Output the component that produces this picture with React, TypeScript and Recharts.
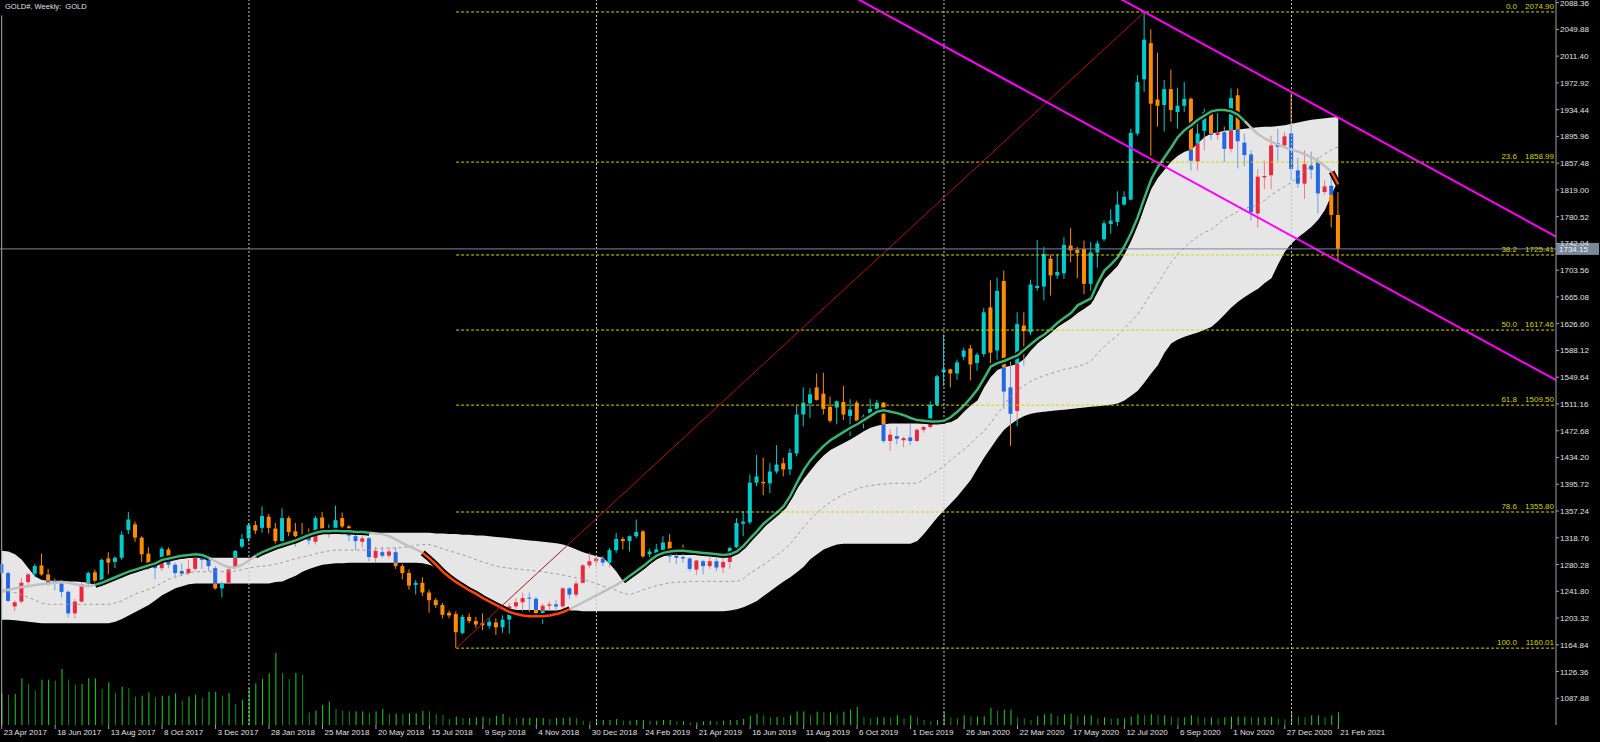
import React from 'react';
import {
  ComposedChart,
  Area,
  Bar,
  Line,
  Scatter,
  XAxis,
  YAxis,
  ReferenceLine,
} from 'recharts';

// GOLD#, weekly bars. index 0 = week of 23 Apr 2017, index 200 = week of 21 Feb 2021
const opens = [
  1281, 1268, 1220, 1227, 1255, 1267, 1279, 1266, 1256, 1253,
  1241, 1210, 1227, 1253, 1269, 1257, 1289, 1284, 1290, 1330,
  1338, 1319, 1296, 1278, 1275, 1302, 1280, 1271, 1268, 1274,
  1291, 1288, 1275, 1246, 1254, 1276, 1306, 1318, 1337, 1333,
  1349, 1332, 1314, 1347, 1328, 1322, 1323, 1313, 1348, 1326,
  1332, 1347, 1335, 1321, 1313, 1318, 1290, 1298, 1293, 1298,
  1278, 1268, 1251, 1254, 1240, 1229, 1222, 1211, 1209, 1182,
  1205, 1199, 1196, 1192, 1197, 1190, 1201, 1220, 1226, 1232,
  1231, 1208, 1221, 1223, 1220, 1246, 1237, 1254, 1279, 1285,
  1289, 1283, 1301, 1317, 1314, 1321, 1328, 1295, 1297, 1301,
  1313, 1293, 1291, 1289, 1273, 1285, 1278, 1285, 1276, 1284,
  1305, 1339, 1341, 1398, 1399, 1397, 1414, 1426, 1417, 1440,
  1496, 1512, 1535, 1526, 1507, 1506, 1514, 1494, 1513, 1487,
  1494, 1503, 1513, 1458, 1465, 1459, 1463, 1458, 1474, 1478,
  1510, 1557, 1561, 1555, 1579, 1591, 1570, 1583, 1650, 1588,
  1688, 1535, 1501, 1624, 1614, 1678, 1680, 1720, 1696, 1699,
  1739, 1733, 1734, 1684, 1729, 1748, 1770, 1773, 1798, 1805,
  1900, 1978, 2030, 1949, 1941, 1964, 1931, 1940, 1950, 1860,
  1904, 1929, 1898, 1902, 1878, 1955, 1887, 1870, 1785, 1837,
  1840, 1886, 1883, 1900, 1847, 1828, 1854, 1860, 1816, 1825,
  1783,
];
const highs = [
  1287, 1271, 1229, 1261, 1268, 1281, 1296, 1274, 1260, 1257,
  1243, 1231, 1255, 1270, 1273, 1289, 1298, 1292, 1328, 1356,
  1342, 1321, 1305, 1285, 1306, 1305, 1283, 1282, 1287, 1297,
  1294, 1295, 1278, 1256, 1275, 1301, 1324, 1340, 1343, 1364,
  1353, 1340, 1361, 1350, 1340, 1340, 1332, 1350, 1356, 1338,
  1365, 1355, 1337, 1324, 1326, 1320, 1306, 1305, 1304, 1305,
  1281, 1273, 1258, 1262, 1244, 1232, 1225, 1214, 1213, 1208,
  1210, 1205, 1210, 1203, 1203, 1207, 1225, 1232, 1240, 1240,
  1234, 1224, 1227, 1229, 1248, 1248, 1257, 1281, 1297, 1294,
  1292, 1304, 1326, 1320, 1322, 1345, 1330, 1303, 1310, 1321,
  1324, 1297, 1309, 1291, 1287, 1287, 1291, 1289, 1289, 1306,
  1347, 1357, 1410, 1438, 1434, 1426, 1452, 1434, 1447, 1509,
  1535, 1534, 1555, 1556, 1522, 1516, 1537, 1518, 1516, 1496,
  1518, 1517, 1514, 1475, 1478, 1464, 1482, 1476, 1480, 1515,
  1553, 1611, 1562, 1575, 1592, 1596, 1585, 1649, 1689, 1693,
  1703, 1575, 1643, 1643, 1690, 1747, 1737, 1726, 1727, 1751,
  1764, 1737, 1746, 1744, 1746, 1775, 1791, 1817, 1817, 1907,
  1984, 2074.9, 2050, 2016, 1977, 1992, 1966, 1974, 1952, 1918,
  1936, 1934, 1932, 1910, 1965, 1965, 1900, 1876, 1849, 1861,
  1897, 1907, 1902, 1959, 1865, 1876, 1874, 1866, 1833, 1842,
  1816,
];
const lows = [
  1262, 1226, 1213, 1224, 1250, 1262, 1264, 1250, 1243, 1233,
  1204, 1203, 1225, 1248, 1252, 1249, 1266, 1275, 1287, 1324,
  1313, 1284, 1272, 1259, 1271, 1275, 1262, 1264, 1265, 1271,
  1274, 1271, 1244, 1233, 1252, 1274, 1304, 1313, 1324, 1326,
  1325, 1306, 1311, 1321, 1306, 1318, 1309, 1309, 1323, 1319,
  1328, 1331, 1314, 1301, 1305, 1285, 1283, 1290, 1289, 1274,
  1259, 1244, 1237, 1235, 1211, 1218, 1203, 1203, 1160.01, 1180,
  1196, 1189, 1186, 1188, 1179, 1182, 1181, 1216, 1213, 1212,
  1203, 1195, 1214, 1212, 1217, 1231, 1233, 1253, 1275, 1278,
  1278, 1276, 1297, 1302, 1299, 1318, 1290, 1281, 1292, 1296,
  1283, 1281, 1283, 1270, 1265, 1266, 1274, 1271, 1268, 1274,
  1304, 1321, 1338, 1393, 1380, 1383, 1411, 1407, 1409, 1436,
  1479, 1491, 1516, 1496, 1484, 1482, 1488, 1465, 1479, 1476,
  1489, 1500, 1455, 1444, 1453, 1449, 1452, 1457, 1470, 1476,
  1508, 1537, 1535, 1546, 1574, 1545, 1559, 1579, 1562, 1573,
  1504, 1451, 1479, 1566, 1610, 1674, 1660, 1667, 1691, 1691,
  1715, 1692, 1669, 1674, 1707, 1745, 1756, 1767, 1796, 1804,
  1897, 1960, 1868, 1910, 1903, 1917, 1907, 1931, 1847, 1847,
  1876, 1891, 1891, 1859, 1873, 1850, 1853, 1775, 1765, 1820,
  1820, 1861, 1880, 1833, 1822, 1806, 1835, 1785, 1812, 1765,
  1717,
];
const closes = [
  1268, 1228, 1226, 1254, 1266, 1278, 1266, 1254, 1253, 1241,
  1210, 1227, 1252, 1268, 1257, 1287, 1283, 1290, 1323, 1345,
  1319, 1295, 1277, 1275, 1303, 1280, 1268, 1267, 1274, 1293,
  1287, 1278, 1246, 1253, 1273, 1300, 1317, 1337, 1329, 1350,
  1333, 1314, 1347, 1327, 1321, 1321, 1315, 1347, 1328, 1331,
  1344, 1335, 1322, 1314, 1318, 1291, 1300, 1293, 1299, 1278,
  1268, 1250, 1254, 1240, 1229, 1222, 1208, 1207, 1183, 1205,
  1199, 1194, 1193, 1198, 1190, 1201, 1220, 1226, 1232, 1231,
  1208, 1221, 1223, 1220, 1246, 1237, 1253, 1279, 1285, 1289,
  1283, 1301, 1317, 1314, 1321, 1327, 1292, 1299, 1302, 1312,
  1292, 1290, 1289, 1274, 1286, 1278, 1285, 1276, 1284, 1304,
  1340, 1342, 1398, 1407, 1397, 1414, 1424, 1417, 1441, 1496,
  1513, 1525, 1517, 1504, 1487, 1515, 1496, 1503, 1487, 1493,
  1504, 1513, 1458, 1467, 1461, 1462, 1458, 1474, 1478, 1510,
  1551, 1561, 1555, 1571, 1588, 1568, 1582, 1643, 1585, 1674,
  1529, 1497, 1626, 1616, 1683, 1681, 1727, 1696, 1701, 1740,
  1732, 1728, 1684, 1729, 1742, 1771, 1775, 1798, 1809, 1901,
  1974, 2035, 1943, 1940, 1964, 1934, 1940, 1950, 1861, 1900,
  1931, 1898, 1902, 1878, 1951, 1889, 1869, 1787, 1838, 1839,
  1883, 1881, 1896, 1849, 1828, 1856, 1848, 1814, 1824, 1783,
  1734.15,
];
// tick volume (thousands)
const volumes = [
  95, 91, 93, 140, 123, 103, 136, 136, 133, 168,
  136, 121, 123, 140, 140, 108, 128, 96, 115, 111,
  85, 88, 98, 83, 88, 88, 95, 73, 85, 91,
  81, 100, 100, 88, 96, 63, 76, 111, 125, 138,
  155, 216, 156, 138, 156, 151, 38, 43, 60, 70,
  48, 43, 41, 41, 41, 35, 41, 48, 33, 34,
  33, 35, 35, 43, 41, 33, 30, 18, 25, 21,
  21, 23, 25, 21, 28, 33, 23, 21, 21, 21,
  21, 21, 18, 21, 21, 23, 21, 13, 11, 15,
  15, 15, 18, 13, 13, 15, 15, 13, 13, 15,
  15, 11, 11, 8, 8, 11, 13, 11, 13, 15,
  15, 18, 28, 33, 29, 23, 24, 23, 29, 41,
  41, 29, 40, 38, 38, 32, 40, 46, 54, 25,
  20, 23, 23, 22, 29, 20, 29, 23, 15, 11,
  15, 38, 23, 20, 29, 25, 25, 26, 52, 42,
  46, 46, 23, 20, 15, 26, 32, 34, 26, 32,
  34, 26, 29, 29, 20, 23, 20, 20, 20, 25,
  32, 29, 32, 29, 29, 25, 23, 23, 29, 25,
  23, 23, 20, 23, 25, 25, 25, 23, 23, 23,
  25, 20, 17, 38, 25, 23, 29, 29, 23, 29,
  38,
];
const bandUpper = [
  1300, 1299, 1295, 1287, 1275, 1263, 1258, 1257, 1257, 1257,
  1256, 1256, 1255, 1254, 1250, 1253, 1257, 1261, 1265, 1269,
  1271, 1274, 1276, 1279, 1284, 1286, 1288, 1289, 1290, 1290,
  1290, 1290, 1290, 1290, 1290, 1290, 1290, 1290, 1290, 1295,
  1299, 1303, 1306, 1309, 1313, 1317, 1321, 1323, 1324, 1324,
  1325, 1325, 1325, 1325, 1325, 1325, 1325, 1326, 1326, 1326,
  1326, 1326, 1326, 1326, 1326, 1325, 1325, 1324, 1324, 1323,
  1323, 1322, 1322, 1321, 1320, 1319, 1318, 1317, 1316, 1315,
  1314, 1313, 1312, 1311, 1309, 1306, 1302, 1298, 1295, 1292,
  1290, 1281, 1270, 1256, 1261, 1267, 1274, 1281, 1288, 1292,
  1294, 1294, 1294, 1294, 1294, 1294, 1294, 1294, 1294, 1294,
  1300, 1308, 1316, 1325, 1334, 1343, 1352, 1361, 1374, 1389,
  1403, 1415, 1427, 1437, 1445, 1450, 1455, 1460, 1466, 1472,
  1477, 1480, 1482, 1483, 1483, 1483, 1483, 1483, 1483, 1483,
  1483, 1484, 1485, 1490, 1500, 1509, 1516, 1535, 1550, 1560,
  1564, 1566, 1569, 1576, 1588, 1598, 1606, 1614, 1622, 1628,
  1634, 1642, 1648, 1655, 1672, 1690, 1700, 1710, 1726, 1745,
  1768, 1795, 1820, 1836, 1848, 1860, 1868, 1874, 1877, 1886,
  1895, 1900, 1902, 1904, 1905, 1906, 1907, 1908, 1909, 1910,
  1910, 1911, 1912, 1914, 1916, 1918, 1920, 1921, 1922, 1923,
  1924,
];
const bandLower = [
  1201, 1201, 1200, 1199, 1198, 1197, 1196, 1196, 1196, 1196,
  1196, 1196, 1196, 1196, 1196, 1196, 1196, 1198, 1202, 1207,
  1212, 1217, 1222, 1229, 1236, 1241, 1246, 1249, 1252, 1253,
  1253, 1253, 1253, 1253, 1253, 1253, 1253, 1253, 1253, 1253,
  1253, 1255, 1256, 1260, 1264, 1270, 1274, 1277, 1280, 1281,
  1282, 1282, 1283, 1283, 1283, 1283, 1283, 1283, 1283, 1283,
  1283, 1283, 1283, 1282, 1280, 1276, 1272, 1264, 1257, 1251,
  1246, 1240, 1235, 1230, 1225, 1221, 1217, 1215, 1215, 1215,
  1215, 1214, 1214, 1214, 1214, 1214, 1214, 1213, 1213, 1213,
  1213, 1213, 1213, 1213, 1213, 1213, 1213, 1213, 1213, 1213,
  1213, 1213, 1213, 1213, 1213, 1213, 1213, 1213, 1213, 1214,
  1216, 1219, 1223, 1228, 1235, 1242, 1249, 1256, 1262, 1269,
  1277, 1288, 1295, 1302, 1306, 1309, 1310, 1310, 1310, 1310,
  1310, 1310, 1310, 1310, 1310, 1310, 1310, 1314, 1324, 1336,
  1348, 1358, 1368, 1378, 1390, 1402, 1418, 1434, 1448, 1462,
  1474, 1482, 1489, 1494, 1497, 1499, 1500, 1501, 1502, 1503,
  1504, 1505, 1506, 1507, 1508, 1509, 1510, 1512, 1516, 1523,
  1530, 1542, 1555, 1567, 1585, 1598, 1604, 1608, 1611, 1614,
  1618, 1622, 1630, 1640, 1650, 1658, 1665, 1671, 1677, 1685,
  1692, 1712, 1730, 1742, 1751, 1758, 1766, 1776, 1790, 1812,
  1833,
];
const bandMid = [
  1241, 1241, 1240, 1237, 1233, 1229, 1225, 1223, 1223, 1223,
  1223, 1223, 1223, 1223, 1223, 1223, 1223, 1225, 1228, 1233,
  1238, 1241, 1245, 1248, 1254, 1259, 1262, 1265, 1268, 1270,
  1270, 1270, 1270, 1270, 1270, 1271, 1273, 1275, 1277, 1278,
  1279, 1281, 1283, 1286, 1289, 1291, 1293, 1296, 1298, 1300,
  1301, 1301, 1301, 1301, 1301, 1301, 1303, 1304, 1304, 1304,
  1305, 1306, 1308, 1309, 1309, 1306, 1303, 1300, 1297, 1294,
  1291, 1287, 1284, 1281, 1278, 1276, 1275, 1274, 1273, 1272,
  1271, 1270, 1268, 1267, 1265, 1263, 1261, 1259, 1256, 1253,
  1249, 1246, 1243, 1239, 1237, 1240, 1244, 1247, 1250, 1252,
  1254, 1255, 1255, 1256, 1256, 1256, 1256, 1256, 1256, 1256,
  1256, 1260, 1268, 1274, 1280, 1287, 1294, 1301, 1310, 1322,
  1334, 1345, 1355, 1363, 1370, 1376, 1381, 1385, 1389, 1392,
  1394, 1395, 1396, 1397, 1397, 1397, 1397, 1397, 1403, 1410,
  1415, 1422, 1430, 1438, 1446, 1454, 1464, 1472, 1484, 1497,
  1510, 1522, 1531, 1538, 1544, 1548, 1552, 1555, 1558, 1561,
  1563, 1565, 1568, 1573, 1584, 1594, 1602, 1610, 1620, 1630,
  1640, 1655, 1670, 1684, 1700, 1715, 1727, 1736, 1745, 1752,
  1758, 1762, 1770, 1778, 1783, 1788, 1792, 1795, 1797, 1804,
  1812, 1818, 1824, 1830, 1838, 1846, 1856, 1864, 1871, 1877,
  1881,
];
const maValues = [
  1243, 1244, 1246, 1248, 1249, 1251, 1252, 1253, 1254, 1255,
  1254, 1252, 1250, 1249, 1251, 1254, 1258, 1262, 1266, 1270,
  1273, 1276, 1279, 1282, 1287, 1289, 1291, 1293, 1294, 1295,
  1294, 1290, 1285, 1280, 1276, 1276, 1280, 1286, 1293, 1298,
  1302, 1306, 1309, 1312, 1315, 1319, 1323, 1326, 1328, 1328,
  1329, 1328, 1328, 1327, 1327, 1326, 1325, 1324, 1321, 1316,
  1311, 1306, 1302, 1297, 1289, 1280, 1270, 1262, 1255, 1249,
  1243, 1238, 1232, 1227, 1222, 1217, 1212, 1209, 1207, 1206,
  1206, 1206, 1207, 1209, 1212, 1216, 1221, 1226, 1231, 1236,
  1241, 1246, 1251, 1257, 1264, 1271, 1278, 1286, 1293, 1297,
  1299, 1300, 1300, 1299, 1298, 1297, 1296, 1295, 1294, 1295,
  1299, 1307, 1318, 1328, 1339, 1347, 1355, 1364, 1379, 1398,
  1416, 1430, 1441, 1451, 1459, 1465, 1471, 1477, 1482, 1488,
  1494, 1500, 1502, 1500, 1498, 1495, 1491, 1488, 1487, 1486,
  1486, 1487, 1492, 1500, 1509, 1520, 1532, 1548, 1565, 1570,
  1573, 1577, 1581, 1589, 1597, 1605, 1611, 1619, 1628, 1635,
  1642, 1653, 1658, 1663, 1685, 1703, 1712, 1722, 1738, 1757,
  1780, 1808, 1834, 1852, 1866, 1880, 1895, 1905, 1912, 1920,
  1926, 1932, 1934, 1934, 1932, 1927, 1918, 1908, 1899, 1893,
  1888, 1884, 1880, 1877, 1874, 1870, 1866, 1860, 1853, 1845,
  1827,
];
// 1 = above the band (green), 0 = inside (grey), -1 = below (orange)
const maTrendRuns = [
  { from: 0, to: 13, state: 0 },
  { from: 14, to: 30, state: 1 },
  { from: 31, to: 37, state: 0 },
  { from: 38, to: 54, state: 1 },
  { from: 55, to: 62, state: 0 },
  { from: 63, to: 84, state: -1 },
  { from: 85, to: 92, state: 0 },
  { from: 93, to: 185, state: 1 },
  { from: 186, to: 198, state: 0 },
  { from: 199, to: 200, state: -1 },
];

const timeTickIdx = [
  0, 8, 16, 24, 32, 40, 48, 56, 64, 72, 80, 88, 96,
  104, 112, 120, 128, 136, 144, 152, 160, 168, 176, 184, 192, 200,
];
const timeTickLabels = [
  '23 Apr 2017', '18 Jun 2017', '13 Aug 2017', '8 Oct 2017', '3 Dec 2017',
  '28 Jan 2018', '25 Mar 2018', '20 May 2018', '15 Jul 2018', '9 Sep 2018',
  '4 Nov 2018', '30 Dec 2018', '24 Feb 2019', '21 Apr 2019', '16 Jun 2019',
  '11 Aug 2019', '6 Oct 2019', '1 Dec 2019', '26 Jan 2020', '22 Mar 2020',
  '17 May 2020', '12 Jul 2020', '6 Sep 2020', '1 Nov 2020', '27 Dec 2020',
  '21 Feb 2021',
];
const priceTicks = [
  2088.36, 2049.88, 2011.4, 1972.92, 1934.44, 1895.96, 1857.48, 1819.0,
  1780.52, 1742.04, 1703.56, 1665.08, 1626.6, 1588.12, 1549.64, 1511.16,
  1472.68, 1434.2, 1395.72, 1357.24, 1318.76, 1280.28, 1241.8, 1203.32,
  1164.84, 1126.36, 1087.88,
];
const fibLevels = [
  { pct: '0.0', price: 2074.9 },
  { pct: '23.6', price: 1858.99 },
  { pct: '38.2', price: 1725.41 },
  { pct: '50.0', price: 1617.46 },
  { pct: '61.8', price: 1509.5 },
  { pct: '78.6', price: 1355.8 },
  { pct: '100.0', price: 1160.01 },
];
const swingLow = { i: 68, p: 1160.01 };
const swingHigh = { i: 171, p: 2074.9 };
// channel: two points on the lower line, upper line parallel through the top
const channelLower = [
  { i: 128, p: 2094.0 },
  { i: 200, p: 1716.3 },
];
const channelUpperAnchor = { i: 171, p: 2074.9 };
const yearStarts = [37, 89, 141, 193];
const lastPrice = 1734.15;

const X_MIN = -0.2544;
const X_MAX = 232.58;
const Y_MIN = 1049.5;
const Y_MAX = 2092.1;
const PLOT_BOTTOM = 725;

const FONT = '"Liberation Sans", Arial, sans-serif';
const CYAN = '#00cccc';
const ORANGE = '#ff8c00';
const BLUE = '#2368e0';
const RED = '#e8283c';
const BLUE_WICK = '#6d9ee8';
const RED_WICK = '#ee7a88';
const BAND = '#e6e6e6';
const MID = '#9c9c9c';
const MA_UP = '#3cb371';
const MA_FLAT = '#c0c0c0';
const MA_DN = '#ff4500';
const FIB = '#d4d400';
const CHANNEL = '#ff00ff';
const DIAG = '#b41414';
const SEP = '#c8c8c8';
const PRICE_LINE = '#778899';
const AXIS = '#a0a0a0';
const TEXT = '#e0e0e0';
const VOL_UP = '#1ed21e';
const VOL_DN = '#148c14';
const BODY = 4;

const trendAt: number[] = [];
maTrendRuns.forEach((r) => {
  for (let k = r.from; k <= r.to; k++) trendAt[k] = r.state;
});

const maFor = (state: number, i: number) =>
  trendAt[i] === state || trendAt[i - 1] === state ? maValues[i] : null;

const rows = opens.map((o, i) => ({
  i,
  o,
  h: highs[i],
  l: lows[i],
  c: closes[i],
  up: bandUpper[i],
  lo: bandLower[i],
  band: [bandLower[i], bandUpper[i]],
  mid: bandMid[i],
  vol: volumes[i],
  volUp: i === 0 || volumes[i] >= volumes[i - 1],
  maUp: maFor(1, i),
  maFlat: maFor(0, i),
  maDown: maFor(-1, i),
}));

const channelSlope =
  (channelLower[1].p - channelLower[0].p) / (channelLower[1].i - channelLower[0].i);
const lowerAt = (i: number) => channelLower[0].p + channelSlope * (i - channelLower[0].i);
const upperAt = (i: number) => channelUpperAnchor.p + channelSlope * (i - channelUpperAnchor.i);

// split a price interval into the parts lying inside / outside the band
const splitByBand = (a: number, b: number, lo: number, up: number) => {
  const cuts = [a, b, lo, up].filter((v) => v >= a && v <= b).sort((m, n) => m - n);
  const parts: { a: number; b: number; inside: boolean }[] = [];
  for (let j = 0; j < cuts.length - 1; j++) {
    if (cuts[j + 1] - cuts[j] <= 0) continue;
    const m = (cuts[j] + cuts[j + 1]) / 2;
    parts.push({ a: cuts[j], b: cuts[j + 1], inside: m >= lo && m <= up });
  }
  return parts;
};

const CandleShape = (props: any) => {
  const { x, y, width, height, payload } = props;
  if (!payload || height == null || isNaN(y)) return null;
  const { o, h, l, c, up, lo } = payload;
  const top = Math.min(y, y + height);
  const k = Math.abs(height) / (h - l);
  const py = (v: number) => top + (h - v) * k;
  const cx = x + width / 2;
  const bull = c >= o;
  const outCol = bull ? CYAN : ORANGE;
  const inBody = bull ? RED : BLUE;
  const inWick = bull ? RED_WICK : BLUE_WICK;
  const bLo = Math.min(o, c);
  const bHi = Math.max(o, c);

  const wicks = splitByBand(l, h, lo, up).map((s, j) => (
    <line
      key={`w${j}`}
      x1={cx}
      x2={cx}
      y1={py(s.b)}
      y2={py(s.a)}
      stroke={s.inside ? inWick : outCol}
      strokeWidth={1}
    />
  ));

  let body: React.ReactNode;
  if (py(bLo) - py(bHi) < 1) {
    const inside = bLo >= lo && bHi <= up;
    body = (
      <rect x={cx - BODY / 2} y={py(bHi) - 0.5} width={BODY} height={1} fill={inside ? inBody : outCol} />
    );
  } else {
    body = splitByBand(bLo, bHi, lo, up).map((s, j) => (
      <rect
        key={`b${j}`}
        x={cx - BODY / 2}
        y={py(s.b)}
        width={BODY}
        height={py(s.a) - py(s.b)}
        fill={s.inside ? inBody : outCol}
      />
    ));
  }
  return (
    <g>
      {wicks}
      {body}
    </g>
  );
};

const VolumeShape = (props: any) => {
  const { x, y, width, height, payload } = props;
  if (!payload || height == null) return null;
  const top = Math.min(y, y + height);
  const cx = x + width / 2;
  return (
    <line
      x1={cx}
      x2={cx}
      y1={top}
      y2={top + Math.abs(height)}
      stroke={payload.volUp ? VOL_UP : VOL_DN}
      strokeWidth={1}
    />
  );
};

const FibLabel = (props: any) => {
  const { cx, cy, payload } = props;
  return (
    <g fontFamily={FONT} fontSize={8} fill={FIB}>
      <text x={cx - 39} y={cy - 3} textAnchor="end">
        {payload.pct}
      </text>
      <text x={cx - 2} y={cy - 3} textAnchor="end">
        {payload.price.toFixed(2)}
      </text>
    </g>
  );
};

const PriceBox = (props: any) => {
  const { cx, cy, payload } = props;
  return (
    <g>
      <rect x={cx} y={cy - 6} width={43} height={12} fill={PRICE_LINE} />
      <text x={cx + 3} y={cy + 3} fontFamily={FONT} fontSize={8} fill="#f2f2f2">
        {payload.p.toFixed(2)}
      </text>
    </g>
  );
};

// the tick's x comes from the axis scale; the row sits just under the plot
const TimeTick = (props: any) => {
  const { x, payload } = props;
  const label = timeTickLabels[timeTickIdx.indexOf(payload.value)];
  return (
    <g>
      <line x1={x} x2={x} y1={PLOT_BOTTOM} y2={PLOT_BOTTOM + 4} stroke={AXIS} />
      <text x={x + 2} y={PLOT_BOTTOM + 10} fontFamily={FONT} fontSize={8} fill={TEXT}>
        {label}
      </text>
    </g>
  );
};

const PriceTick = (props: any) => {
  const { x, y, payload } = props;
  return (
    <g>
      <line x1={x} x2={x + 3} y1={y} y2={y} stroke={AXIS} />
      <text x={x + 4} y={y + 3} fontFamily={FONT} fontSize={8} fill={TEXT}>
        {Number(payload.value).toFixed(2)}
      </text>
    </g>
  );
};

const fibLabelData = fibLevels.map((f) => ({ i: X_MAX, p: f.price, pct: f.pct, price: f.price }));
const priceBoxData = [{ i: X_MAX, p: lastPrice }];

export default function App() {
  return (
    <div style={{ position: 'absolute', left: 0, top: 0, width: 1600, height: 742, background: '#000' }}>
      <style>{'body{margin:0;background:#000;}'}</style>
      <ComposedChart
        width={1600}
        height={742}
        data={rows}
        margin={{ top: 0, right: 0, bottom: 0, left: 0 }}
      >
        <XAxis
          xAxisId="x"
          dataKey="i"
          type="number"
          domain={[X_MIN, X_MAX]}
          ticks={timeTickIdx}
          interval={0}
          height={17}
          tickLine={false}
          axisLine={{ stroke: AXIS }}
          tick={<TimeTick />}
        />
        <XAxis xAxisId="vx" dataKey="i" type="number" domain={[X_MIN, X_MAX]} hide />
        <YAxis
          yAxisId="p"
          orientation="right"
          type="number"
          domain={[Y_MIN, Y_MAX]}
          ticks={priceTicks}
          interval={0}
          width={44}
          tickSize={0}
          tickMargin={0}
          tickLine={false}
          axisLine={{ stroke: AXIS }}
          tick={<PriceTick />}
        />
        <YAxis yAxisId="v" type="number" domain={[0, 2175]} hide />

        <Area
          xAxisId="x"
          yAxisId="p"
          dataKey="band"
          type="linear"
          stroke="none"
          fill={BAND}
          fillOpacity={1}
          dot={false}
          activeDot={false}
          isAnimationActive={false}
        />
        {yearStarts.map((i) => (
          <ReferenceLine
            key={`sep${i}`}
            xAxisId="x"
            yAxisId="p"
            x={i}
            stroke={SEP}
            strokeDasharray="2 2"
          />
        ))}
        <ReferenceLine
          xAxisId="x"
          yAxisId="p"
          segment={[
            { x: 0, y: 2070 },
            { x: 0, y: Y_MIN },
          ]}
          stroke="#b0b0b0"
          ifOverflow="hidden"
        />
        <Line
          xAxisId="x"
          yAxisId="p"
          dataKey="mid"
          type="linear"
          stroke={MID}
          strokeWidth={1}
          strokeDasharray="3 3"
          dot={false}
          activeDot={false}
          isAnimationActive={false}
        />
        {['maUp', 'maDown'].map((key) => (
          <Line
            key={`${key}-under`}
            xAxisId="x"
            yAxisId="p"
            dataKey={key}
            type="linear"
            stroke="#000"
            strokeWidth={6}
            dot={false}
            activeDot={false}
            isAnimationActive={false}
          />
        ))}
        <Line
          xAxisId="x"
          yAxisId="p"
          dataKey="maFlat"
          type="linear"
          stroke={MA_FLAT}
          strokeWidth={2.5}
          dot={false}
          activeDot={false}
          isAnimationActive={false}
        />
        <Line
          xAxisId="x"
          yAxisId="p"
          dataKey="maUp"
          type="linear"
          stroke={MA_UP}
          strokeWidth={2.5}
          dot={false}
          activeDot={false}
          isAnimationActive={false}
        />
        <Line
          xAxisId="x"
          yAxisId="p"
          dataKey="maDown"
          type="linear"
          stroke={MA_DN}
          strokeWidth={2.5}
          dot={false}
          activeDot={false}
          isAnimationActive={false}
        />
        <Bar
          xAxisId="vx"
          yAxisId="v"
          dataKey="vol"
          barSize={1}
          shape={<VolumeShape />}
          isAnimationActive={false}
        />
        <Bar
          xAxisId="x"
          yAxisId="p"
          dataKey={(d: any) => [d.l, d.h]}
          barSize={BODY}
          shape={<CandleShape />}
          isAnimationActive={false}
        />

        {fibLevels.map((f) => (
          <ReferenceLine
            key={`fib${f.pct}`}
            xAxisId="x"
            yAxisId="p"
            segment={[
              { x: swingLow.i, y: f.price },
              { x: X_MAX, y: f.price },
            ]}
            stroke={FIB}
            strokeDasharray="3 2"
            ifOverflow="hidden"
          />
        ))}
        <ReferenceLine
          xAxisId="x"
          yAxisId="p"
          segment={[
            { x: swingLow.i, y: swingLow.p },
            { x: swingHigh.i, y: swingHigh.p },
          ]}
          stroke={DIAG}
          strokeWidth={1}
          ifOverflow="hidden"
        />
        <ReferenceLine
          xAxisId="x"
          yAxisId="p"
          segment={[
            { x: 120, y: lowerAt(120) },
            { x: 240, y: lowerAt(240) },
          ]}
          stroke={CHANNEL}
          strokeWidth={2}
          ifOverflow="hidden"
        />
        <ReferenceLine
          xAxisId="x"
          yAxisId="p"
          segment={[
            { x: 160, y: upperAt(160) },
            { x: 240, y: upperAt(240) },
          ]}
          stroke={CHANNEL}
          strokeWidth={2}
          ifOverflow="hidden"
        />
        <ReferenceLine xAxisId="x" yAxisId="p" y={lastPrice} stroke={PRICE_LINE} strokeWidth={1} />
        <Scatter
          xAxisId="x"
          yAxisId="p"
          data={fibLabelData}
          dataKey="p"
          shape={<FibLabel />}
          isAnimationActive={false}
        />
        <Scatter
          xAxisId="x"
          yAxisId="p"
          data={priceBoxData}
          dataKey="p"
          shape={<PriceBox />}
          isAnimationActive={false}
        />
      </ComposedChart>
      <div
        style={{
          position: 'absolute',
          left: 5,
          top: 2,
          fontFamily: FONT,
          fontSize: 7.5,
          color: TEXT,
          whiteSpace: 'pre',
        }}
      >
        {'GOLD#, Weekly:  GOLD'}
      </div>
    </div>
  );
}
